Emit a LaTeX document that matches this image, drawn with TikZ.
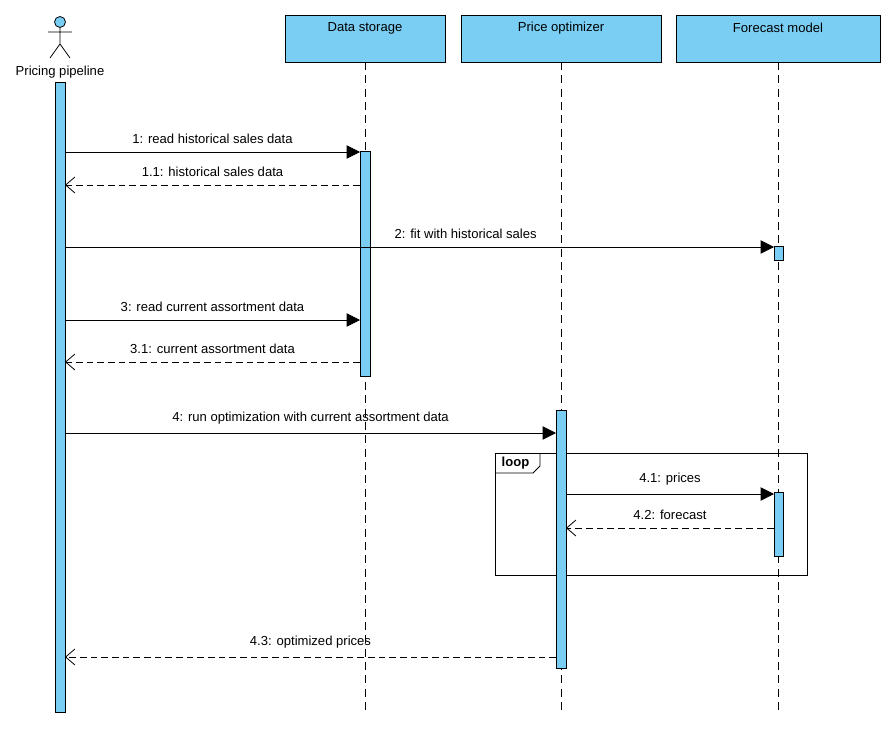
\documentclass[tikz,border=0pt]{standalone}
\usepackage{fontspec}
\setmainfont{Liberation Sans}
\usetikzlibrary{arrows.meta}
\definecolor{lb}{HTML}{7ACEF4}
\begin{document}
\begin{tikzpicture}[x=0.75pt,y=-0.75pt,font=\fontsize{9.8}{12}\selectfont,
  box/.style={draw,fill=lb,line width=0.6pt},
  life/.style={dashed,dash pattern=on 6pt off 4pt,line width=0.6pt},
  call/.style={-{Triangle[length=10pt,width=10pt]},line width=0.6pt},
  ret/.style={-{Straight Barb[length=7pt,width=12pt,line width=0.6pt]},dash pattern=on 5pt off 3pt,line width=0.6pt},
  lbl/.style={above,inner sep=0pt,yshift=6pt}]
\useasboundingbox (0,0) rectangle (891,732);
% actor
\draw[fill=lb,line width=0.6pt] (60,22) circle (5.5);
\draw[line width=0.6pt] (60,27.5) -- (60,44) (48,32) -- (72,32) (60,44) -- (50,58) (60,44) -- (70,58);
\node (actor) at (60,72) {Pricing pipeline};
% heads
\draw[box] (285,15) rectangle (445,62); \node (ds) at (365,28) {Data storage};
\draw[box] (461,15) rectangle (661,62); \node (po) at (561,28) {Price optimizer};
\draw[box] (676,15) rectangle (880,62); \node (fm) at (778,28) {Forecast model};
% lifelines
\draw[life] (365,62) -- (365,714);
\draw[life] (561,62) -- (561,714);
\draw[life] (778,62) -- (778,714);
% loop frame
\draw[line width=0.6pt] (495,453) rectangle (807,575);
\draw[line width=0.6pt] (495,473) -- (533,473) -- (540,466) -- (540,453);
\node[font=\fontsize{9.8}{12}\selectfont\bfseries,anchor=west] (loop) at (497,463) {loop};
% activations
\draw[box] (55,82) rectangle (65,712);
\draw[box] (360,151) rectangle (370,376);
\draw[box] (774,246) rectangle (783,260);
\draw[box] (556,410) rectangle (566,668);
\draw[box] (774,492) rectangle (783,556);
% messages
\draw[call] (65,152) -- node[lbl]{1: read historical sales data} (360,152);
\draw[ret] (360,185) -- node[lbl]{1.1: historical sales data} (65,185);
\draw[call] (65,247) -- node[lbl,pos=0.565]{2: fit with historical sales} (774,247);
\draw[call] (65,320) -- node[lbl]{3: read current assortment data} (360,320);
\draw[ret] (360,362) -- node[lbl]{3.1: current assortment data} (65,362);
\draw[call] (65,433) -- node[lbl]{4: run optimization with current assortment data} (556,433);
\draw[call] (566,494) -- node[lbl]{4.1: prices} (774,494);
\draw[ret] (774,528) -- node[lbl]{4.2: forecast} (566,528);
\draw[ret] (556,657) -- node[lbl]{4.3: optimized prices} (65,657);
\end{tikzpicture}
\end{document}
